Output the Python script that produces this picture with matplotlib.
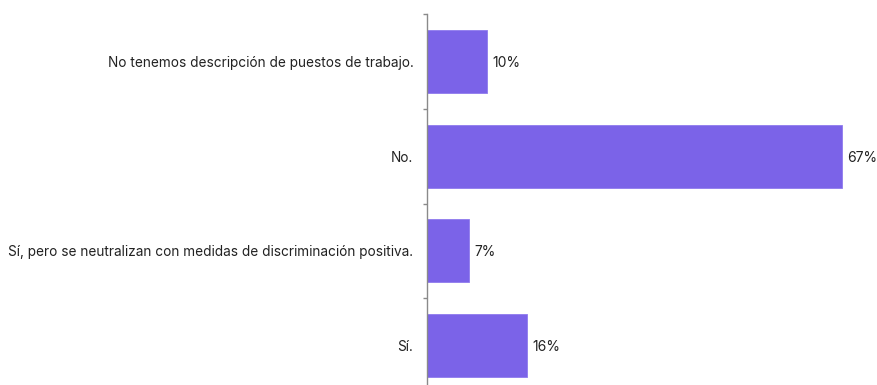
import matplotlib
matplotlib.use("Agg")
import matplotlib.pyplot as plt
import numpy as np

categories = [
    "No tenemos descripción de puestos de trabajo.",
    "No.",
    "Sí, pero se neutralizan con medidas de discriminación positiva.",
    "Sí.",
]
values = [9.6, 67.0, 6.7, 16.1]

plt.rcParams["font.family"] = ["Inter", "DejaVu Sans"]

W, H = 878, 385
fig = plt.figure(figsize=(W / 100, H / 100), dpi=100)

left_px, right_px = 427.3, 868
top_px, bottom_px = 14, 393
ax = fig.add_axes([left_px / W, (H - bottom_px) / H,
                   (right_px - left_px) / W, (bottom_px - top_px) / H])

px_per_unit = 6.19
ax.set_xlim(0, (right_px - left_px) / px_per_unit)
ax.set_ylim(len(categories) - 0.5, -0.5)

y = np.arange(len(categories))
color = "#7B63E8"
ax.barh(y, values, height=0.665, color=color, edgecolor="#8F7BEE", linewidth=0.6)

for yi, v in zip(y, values):
    ax.text(v + 0.9, yi + 0.015, f"{v:.0f}%", va="center", ha="left",
            fontsize=10, color="#222222")

for side in ("top", "right", "bottom"):
    ax.spines[side].set_visible(False)
ax.spines["left"].set_color("#8a8a8a")
ax.spines["left"].set_linewidth(1.0)

ax.set_xticks([])
ax.set_yticks(y)
ax.set_yticklabels(categories, fontsize=9.8, color="#222222")
ax.tick_params(axis="y", which="major", length=0, pad=10)
ax.set_yticks(np.arange(-0.5, len(categories) + 0.5, 1), minor=True)
ax.tick_params(axis="y", which="minor", length=3, width=1.0, color="#8a8a8a",
               direction="out")

fig.savefig("out.png", dpi=100)
